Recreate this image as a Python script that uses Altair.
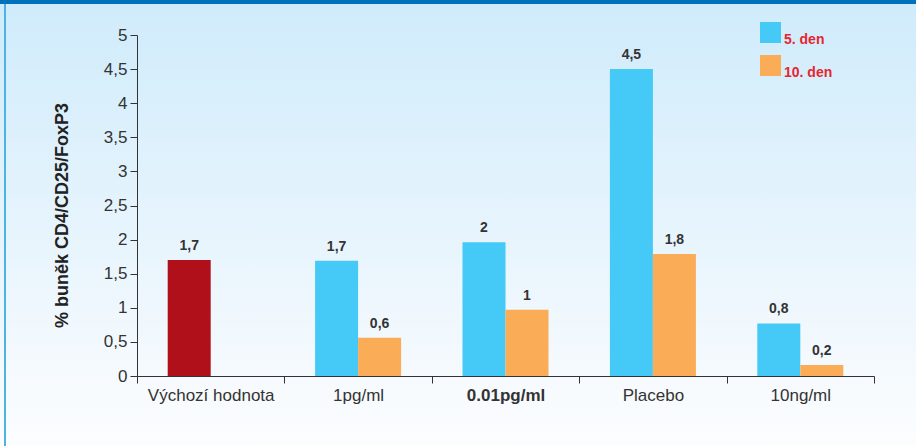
import altair as alt
import pandas as pd

groups = ["Výchozí hodnota", "1pg/ml", "0.01pg/ml", "Placebo", "10ng/ml"]
day5_vals = [1.70, 1.69, 1.96, 4.50, 0.77]
day10_vals = [None, 0.56, 0.97, 1.79, 0.16]
day5_labels = ["1,7", "1,7", "2", "4,5", "0,8"]
day10_labels = [None, "0,6", "1", "1,8", "0,2"]
series = ["5. den", "10. den"]
y_ticks = [0, 0.5, 1, 1.5, 2, 2.5, 3, 3.5, 4, 4.5, 5]

rows = []
for i, g in enumerate(groups):
    rows.append({"group": g, "slot": "5. den",
                 "key": "Výchozí" if i == 0 else "5. den",
                 "value": day5_vals[i], "label": day5_labels[i]})
    if day10_vals[i] is not None:
        rows.append({"group": g, "slot": "10. den", "key": "10. den",
                     "value": day10_vals[i], "label": day10_labels[i]})
df = pd.DataFrame(rows)

W, H = 737, 341
PL, PT, PR, PB = 137, 35, 42, 70
FONT = "Liberation Sans"

one = pd.DataFrame({"a": [0]})
bg = alt.Chart(one).mark_rect(
    color=alt.LinearGradient(
        gradient="linear", x1=0, x2=0, y1=0, y2=1,
        stops=[alt.GradientStop(color="#cfebfb", offset=0),
               alt.GradientStop(color="#f8fbfe", offset=0.9),
               alt.GradientStop(color="#fbfdff", offset=1)])
).encode(x=alt.value(-PL), x2=alt.value(W + PR), y=alt.value(-PT), y2=alt.value(H + PB))

topbar = alt.Chart(one).mark_rect(color="#0072bc").encode(
    x=alt.value(-PL), x2=alt.value(W + PR), y=alt.value(-PT), y2=alt.value(-PT + 4))
leftbar = alt.Chart(one).mark_rect(color="#4cb3e3").encode(
    x=alt.value(-PL + 4), x2=alt.value(-PL + 6), y=alt.value(-PT + 4), y2=alt.value(H + PB))

xenc = alt.X("group:N", sort=groups,
             scale=alt.Scale(paddingInner=0, paddingOuter=0),
             axis=alt.Axis(title=None, labelAngle=0, labelFontSize=17, labelColor="#333333",
                           labelFont=FONT, tickBand="extent", tickSize=7, labelPadding=4,
                           domainColor="#333333", tickColor="#333333", zindex=1,
                           labelFontWeight={"condition": {"test": "datum.value == '0.01pg/ml'", "value": "bold"},
                                            "value": "normal"}))
xoff = alt.XOffset("slot:N", sort=series,
                   scale=alt.Scale(domain=series, paddingInner=0, paddingOuter=0.714))
yenc = alt.Y("value:Q", scale=alt.Scale(domain=[0, 5], nice=False),
             axis=alt.Axis(title="% buněk CD4/CD25/FoxP3", values=y_ticks, grid=False,
                           labelExpr="replace(toString(datum.value), '.', ',')",
                           labelFontSize=17, labelColor="#333333", labelFont=FONT,
                           labelOverlap=False,
                           tickSize=7, labelPadding=3, domainColor="#333333", tickColor="#333333",
                           zindex=1,
                           titleFont=FONT, titleFontSize=18, titleFontWeight="bold",
                           titleColor="#222222", titleAngle=270, titleX=-75, titleY=180,
                           titleAlign="center", titleBaseline="middle"))

bars = alt.Chart(df).mark_bar().encode(
    x=xenc, xOffset=xoff, y=yenc,
    color=alt.Color("key:N",
                    scale=alt.Scale(domain=["5. den", "10. den", "Výchozí"],
                                    range=["#45c9f6", "#fbac57", "#b0101a"]),
                    legend=alt.Legend(values=["5. den", "10. den"], orient="none",
                                      legendX=623, legendY=-13, title=None,
                                      symbolType="square", symbolSize=441,
                                      symbolStrokeWidth=0, symbolOpacity=1,
                                      labelFontSize=14, labelFontWeight="bold",
                                      labelFont=FONT, labelColor="#e5262f",
                                      labelBaseline="top", labelOffset=3, rowPadding=8))
)

texts = alt.Chart(df).mark_text(dy=-10, baseline="alphabetic", fontSize=14, fontWeight="bold",
                                font=FONT, color="#333333").encode(
    x=xenc, xOffset=xoff, y=yenc, text="label:N")

chart = alt.layer(bg, topbar, leftbar, bars, texts).properties(
    width=W, height=H,
    autosize=alt.AutoSizeParams(type="none"),
    padding={"left": PL, "top": PT, "right": PR, "bottom": PB},
).configure_view(stroke=None).configure(background="#ffffff")

chart.save("out.html", embed_options={"renderer": "svg", "actions": False})
